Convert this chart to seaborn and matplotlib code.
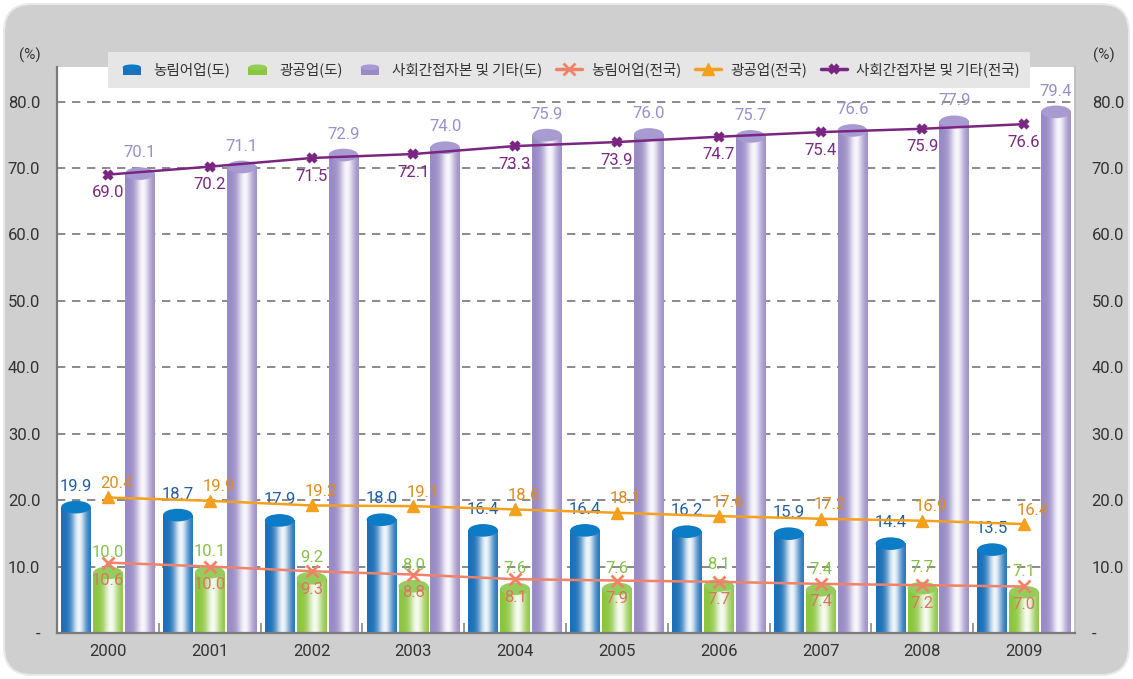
import matplotlib
matplotlib.use('Agg')
import matplotlib.pyplot as plt
import seaborn as sns
import pandas as pd
import numpy as np
from matplotlib.patches import Ellipse, FancyBboxPatch, Rectangle
from matplotlib.lines import Line2D
from matplotlib.colors import to_rgb
from matplotlib.transforms import IdentityTransform

# data
years = ['2000', '2001', '2002', '2003', '2004', '2005', '2006', '2007', '2008', '2009']
agri_do = [19.9, 18.7, 17.9, 18.0, 16.4, 16.4, 16.2, 15.9, 14.4, 13.5]
mining_do = [10.0, 10.1, 9.2, 8.0, 7.6, 7.6, 8.1, 7.4, 7.7, 7.1]
soc_do = [70.1, 71.1, 72.9, 74.0, 75.9, 76.0, 75.7, 76.6, 77.9, 79.4]
agri_nat = [10.6, 10.0, 9.3, 8.8, 8.1, 7.9, 7.7, 7.4, 7.2, 7.0]
mining_nat = [20.4, 19.9, 19.2, 19.1, 18.6, 18.1, 17.6, 17.2, 16.9, 16.4]
soc_nat = [69.0, 70.2, 71.5, 72.1, 73.3, 73.9, 74.7, 75.4, 75.9, 76.6]

bar_names = ['농림어업(도)', '광공업(도)', '사회간접자본 및 기타(도)']
line_names = ['농림어업(전국)', '광공업(전국)', '사회간접자본 및 기타(전국)']

bar_base = ['#1c6fb9', '#8cc63f', '#998bc6']
bar_top = ['#0d7cc6', '#95cd5c', '#a79bd2']
bar_text = ['#1f5fa8', '#86c24a', '#9a8fcc']
line_colors = ['#f08268', '#f5a01c', '#7b2582']
line_text = ['#dc7560', '#e08c1c', '#7a2a80']

sns.set_theme(style='white')
plt.rcParams['font.family'] = ['Noto Sans CJK KR', 'DejaVu Sans']
num_font = ['Roboto', 'DejaVu Sans']

fig = plt.figure(figsize=(11.33, 6.79), dpi=100)
fig.patch.set_facecolor('white')
bg = FancyBboxPatch((4, 4), 1125, 671, boxstyle='round,pad=0,rounding_size=28',
                    transform=IdentityTransform(), facecolor='#cfcfcf',
                    edgecolor='#e9e9e9', lw=1.5, zorder=-5)
fig.patches.append(bg)

ax = fig.add_axes([57 / 1133, 46 / 679, 1018 / 1133, 566 / 679])
ax.set_facecolor('white')

df_bars = pd.DataFrame({
    'year': years * 3,
    'value': agri_do + mining_do + soc_do,
    'series': np.repeat(bar_names, len(years)),
})
sns.barplot(data=df_bars, x='year', y='value', hue='series', palette=bar_base,
            width=0.94, dodge=True, legend=False, saturation=1, ax=ax)


def cyl_gradient(base):
    t = np.linspace(0, 1, 64)
    w = np.exp(-((t - 0.6) / 0.24) ** 2) * 0.93
    b = np.array(to_rgb(base))
    cols = b[None, :] * (1 - w[:, None]) + w[:, None]
    return cols[None, :, :]


bw = 0.29
eh = 1.9
for k, cont in enumerate(ax.containers):
    grad = cyl_gradient(bar_base[k])
    for bar in cont:
        cx = bar.get_x() + bar.get_width() / 2
        h = bar.get_height()
        top = h - eh / 2
        bar.set_visible(False)
        ax.imshow(grad, extent=(cx - bw / 2, cx + bw / 2, 0, top), aspect='auto',
                  interpolation='bicubic', zorder=2)
        ax.add_patch(Ellipse((cx, top), bw, eh, facecolor=bar_top[k],
                             edgecolor='none', zorder=2.1))
        ax.annotate(f'{h:.1f}', (cx, h), xytext=(0, 7), textcoords='offset pixels',
                    ha='center', va='bottom', fontsize=12, color=bar_text[k],
                    family=num_font, zorder=3)

# national lines
xs = np.arange(len(years))
line_vals = [agri_nat, mining_nat, soc_nat]
markers = ['x', '^', 'x']
msizes = [8, 8, 6]
mews = [2, 1, 3.2]
for k, vals in enumerate(line_vals):
    sns.lineplot(x=xs, y=vals, color=line_colors[k], marker=markers[k],
                 markersize=msizes[k], markeredgewidth=mews[k],
                 markeredgecolor=line_colors[k], lw=1.8, ax=ax, zorder=4)

for i, v in enumerate(agri_nat):
    ax.annotate(f'{v:.1f}', (i, v), xytext=(0, -18), textcoords='offset pixels',
                ha='center', va='center', fontsize=12, color=line_text[0],
                family=num_font, zorder=5)
for i, v in enumerate(mining_nat):
    ax.annotate(f'{v:.1f}', (i, v), xytext=(9, 14), textcoords='offset pixels',
                ha='center', va='center', fontsize=12, color=line_text[1],
                family=num_font, zorder=5)
for i, v in enumerate(soc_nat):
    ax.annotate(f'{v:.1f}', (i, v), xytext=(0, -18), textcoords='offset pixels',
                ha='center', va='center', fontsize=12, color=line_text[2],
                family=num_font, zorder=1.5)

ax.set_xlim(-0.5, 9.5)
ax.set_ylim(0, 85.2)
yt = np.arange(0, 90, 10)
ylabels = ['-'] + [f'{v:.1f}' for v in yt[1:]]
ax.set_yticks(yt)
ax.set_yticklabels(ylabels, family=num_font)
ax.set_xticks(xs)
ax.set_xticklabels(years, family=num_font)
ax.set_xticks(np.arange(0.5, 9.5, 1), minor=True)
ax.set_xlabel('')
ax.set_ylabel('')
ax.yaxis.grid(True, ls=(0, (5, 4)), color='#777777', lw=1.2)
ax.set_axisbelow(True)
ax.tick_params(axis='y', length=0, pad=12, labelsize=12, labelcolor='#333333')
ax.tick_params(axis='x', which='major', length=0, pad=8, labelsize=12, labelcolor='#333333')
ax.tick_params(axis='x', which='minor', direction='in', length=7, width=1.2, color='#888888',
               bottom=True)
for s in ['left', 'bottom']:
    ax.spines[s].set_color('#7a7a7a')
    ax.spines[s].set_linewidth(1.6)
ax.spines['top'].set_visible(False)
ax.spines['right'].set_color('#bdbdbd')

ax2 = ax.twinx()
ax2.set_ylim(0, 85.2)
ax2.set_yticks(yt)
ax2.set_yticklabels(ylabels, family=num_font)
ax2.tick_params(axis='y', length=0, pad=12, labelsize=12, labelcolor='#333333')
ax2.grid(False)
for s in ax2.spines.values():
    s.set_visible(False)

fig.text(30 / 1133, 1 - 55 / 679, '(%)', ha='center', va='center', fontsize=11, color='#333333',
         family=num_font)
fig.text(1104 / 1133, 1 - 55 / 679, '(%)', ha='center', va='center', fontsize=11, color='#333333',
         family=num_font)


class CylHandler:
    def __init__(self, base, top):
        self.base = base
        self.top = top

    def legend_artist(self, legend, orig_handle, fontsize, handlebox):
        x0, y0 = handlebox.xdescent, handlebox.ydescent
        w, h = handlebox.width, handlebox.height
        r = Rectangle((x0 + w * 0.15, y0 - h * 0.1), w * 0.7, h * 0.8, facecolor=self.base,
                      edgecolor='none', transform=handlebox.get_transform())
        e = Ellipse((x0 + w / 2, y0 + h * 0.7), w * 0.7, h * 0.55, facecolor=self.top,
                    edgecolor='none', transform=handlebox.get_transform())
        handlebox.add_artist(r)
        handlebox.add_artist(e)
        return r


bar_handles = [Rectangle((0, 0), 1, 1, label=n) for n in bar_names]
line_handles = [Line2D([], [], color=line_colors[k], marker=markers[k], markersize=msizes[k],
                       markeredgewidth=mews[k], lw=2.5, label=line_names[k])
                for k in range(3)]
hmap = {bar_handles[k]: CylHandler(bar_base[k], bar_top[k]) for k in range(3)}
leg = fig.legend(bar_handles + line_handles, bar_names + line_names, handler_map=hmap,
                 loc='center', bbox_to_anchor=(569 / 1133, 1 - 70 / 679), ncol=6,
                 frameon=True, fancybox=False, facecolor='#e6e6e6', edgecolor='none',
                 fontsize=10.5, handlelength=1.8, columnspacing=0.95, handletextpad=0.6,
                 borderpad=0.7, labelcolor='#333333')
leg.get_frame().set_alpha(1)

fig.savefig('out.png', dpi=100, facecolor=fig.get_facecolor())
